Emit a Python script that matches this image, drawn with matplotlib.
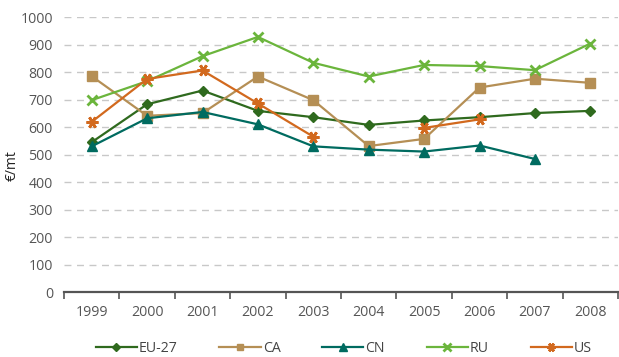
import numpy as np
import matplotlib.pyplot as plt
from matplotlib.ticker import FixedLocator, MultipleLocator

years = ["1999", "2000", "2001", "2002", "2003", "2004", "2005", "2006", "2007", "2008"]
nan = np.nan
eu27 = [545, 683, 733, 659, 636, 608, 624, 636, 651, 659]
ca = [785, 641, 651, 784, 698, 531, 557, 744, 776, 761]
cn = [530, 632, 655, 610, 530, 518, 511, 533, 484, nan]
ru = [698, 767, 858, 928, 834, 784, 826, 822, 807, 904]
us = [619, 775, 806, 686, 565, nan, 597, 628, nan, nan]

series = [
    ("EU-27", eu27, "#2f6a1e", "D", 5.5, 1.0),
    ("CA", ca, "#b58f55", "s", 6.5, 1.0),
    ("CN", cn, "#006b60", "^", 7.5, 1.0),
    ("RU", ru, "#6bb53c", "x", 7.5, 2.0),
    ("US", us, "#d2691e", (6, 2, 90), 8.5, 2.0),
]

plt.rcParams["font.family"] = ["Open Sans", "DejaVu Sans"]

fig = plt.figure(figsize=(6.19, 3.57), dpi=100)
ax = fig.add_axes([0.1034, 0.182, 0.895, 0.770])

x = np.arange(len(years))
for name, vals, color, marker, ms, mew in series:
    ax.plot(x, vals, color=color, lw=1.6, marker=marker, ms=ms,
            mew=mew, mec=color, mfc=color, label=name)

ax.set_xlim(-0.5, len(years) - 0.5)
ax.set_ylim(0, 1000)
ax.yaxis.set_major_locator(MultipleLocator(100))
ax.set_xticks(x)
ax.set_xticklabels(years)
ax.xaxis.set_minor_locator(FixedLocator(np.arange(-0.5, len(years), 1.0)))
ax.tick_params(axis="x", which="major", length=0, pad=9, labelsize=10.2, labelcolor="#555555")
ax.tick_params(axis="x", which="minor", length=5, width=1.2, color="#555555", direction="out")
ax.tick_params(axis="y", length=0, pad=8, labelsize=10.2, labelcolor="#555555")

ax.grid(axis="y", color="#c8c8c8", lw=1.0, ls=(0, (5, 4)))
ax.set_axisbelow(True)
for s in ("left", "right", "top"):
    ax.spines[s].set_visible(False)
ax.spines["bottom"].set_color("#555555")
ax.spines["bottom"].set_linewidth(1.6)

ax.set_ylabel("€/mt", fontsize=10, color="#222222")
ax.yaxis.set_label_coords(-0.08, 0.46)

leg = ax.legend(loc="center", bbox_to_anchor=(0.505, -0.207), ncol=5,
                frameon=False, fontsize=10.2, handlelength=2.9, columnspacing=2.95,
                handletextpad=0.15, markerscale=0.75)
for t in leg.get_texts():
    t.set_color("#444444")

fig.savefig("out.png", dpi=100)
